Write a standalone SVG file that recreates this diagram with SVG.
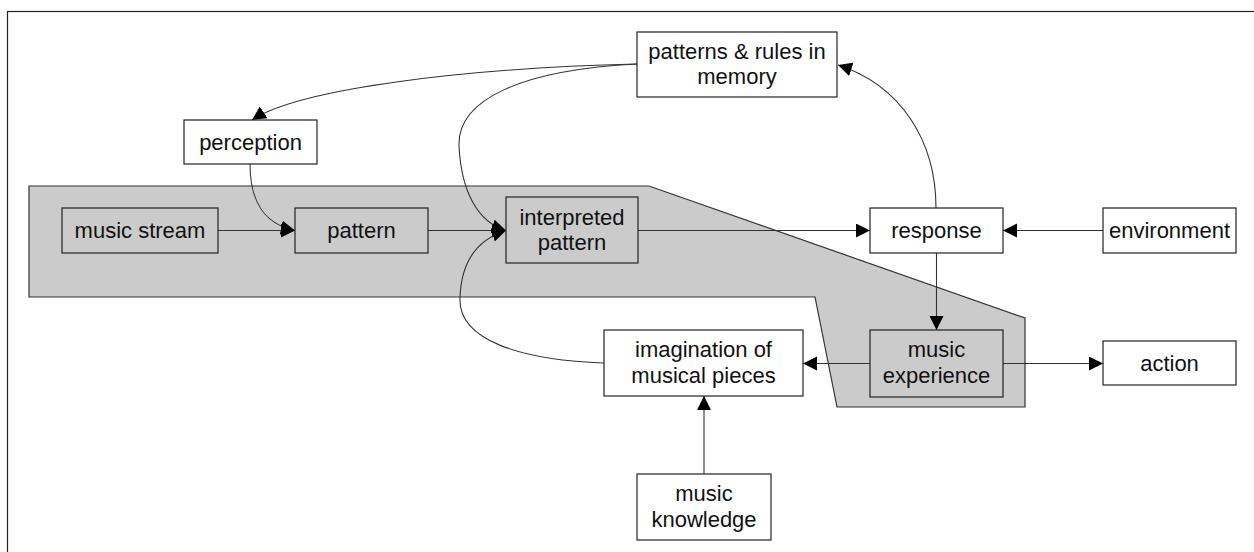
<svg xmlns="http://www.w3.org/2000/svg" width="1254" height="552" viewBox="0 0 1254 552">
<style>
.box{fill:#fff;stroke:#222;stroke-width:1.2}
.gbox{fill:#cbcbcb;stroke:#222;stroke-width:1.2}
text{font-family:"Liberation Sans",Arial,sans-serif;font-size:22px;fill:#111;text-anchor:middle}
.c{fill:none;stroke:#333;stroke-width:1.1}
</style>
<defs>
<marker id="ah" markerUnits="userSpaceOnUse" markerWidth="15" markerHeight="15" refX="14" refY="7" orient="auto">
<path d="M0,0 L14,7 L0,14 z" fill="#000"/>
</marker>
</defs>
<rect x="7.5" y="11.5" width="1260" height="560" fill="#fff" stroke="#222" stroke-width="1.2"/>
<polygon points="29,186 649,186 1025,318 1025,407 837,407 815,297 29,297" fill="#cbcbcb" stroke="#333" stroke-width="1.2"/>
<g id="connectors">
<path class="c" d="M218,230.5 L295,230.5" marker-end="url(#ah)"/>
<path class="c" d="M428,230.5 L506,230.5" marker-end="url(#ah)"/>
<path class="c" d="M638,230.5 L870,230.5" marker-end="url(#ah)"/>
<path class="c" d="M1103,230.5 L1003,230.5" marker-end="url(#ah)"/>
<path class="c" d="M936.5,253 L936.5,330" marker-end="url(#ah)"/>
<path class="c" d="M1003,363.5 L1103,363.5" marker-end="url(#ah)"/>
<path class="c" d="M870,363.5 L803,363.5" marker-end="url(#ah)"/>
<path class="c" d="M704,474 L704,396" marker-end="url(#ah)"/>
<path class="c" d="M250,164 C250,202 264,224 295,230.5" marker-end="url(#ah)"/>
<path class="c" d="M637,64 C470,68 300,88 252,120" marker-end="url(#ah)"/>
<path class="c" d="M637,64 C520,70 458,100 459,145 C461,192 478,222 506,230.5" marker-end="url(#ah)"/>
<path class="c" d="M604,363 C520,360 458,340 460,298 C461,264 476,240 506,230.5" marker-end="url(#ah)"/>
<path class="c" d="M936,208 C936,140 900,85 838,65" marker-end="url(#ah)"/>
</g>
<g id="perception"><rect class="box" x="184" y="120" width="133" height="44"/><text x="250.5" y="149.5">perception</text></g>
<g id="patterns-rules"><rect class="box" x="637" y="32" width="200" height="65"/><text x="737" y="59">patterns &amp; rules in</text><text x="737" y="84">memory</text></g>
<g id="music-stream"><rect class="gbox" x="62" y="208" width="156" height="45"/><text x="140" y="238">music stream</text></g>
<g id="pattern"><rect class="gbox" x="295" y="208" width="133" height="45"/><text x="361.5" y="238">pattern</text></g>
<g id="interpreted-pattern"><rect class="gbox" x="506" y="197" width="132" height="66"/><text x="572" y="225">interpreted</text><text x="572" y="250">pattern</text></g>
<g id="response"><rect class="box" x="870" y="208" width="133" height="45"/><text x="936.5" y="238">response</text></g>
<g id="environment"><rect class="box" x="1103" y="208" width="133" height="45"/><text x="1169.5" y="238">environment</text></g>
<g id="imagination"><rect class="box" x="604" y="330" width="199" height="66"/><text x="703.5" y="357">imagination of</text><text x="703.5" y="383">musical pieces</text></g>
<g id="music-experience"><rect class="gbox" x="870" y="330" width="133" height="67"/><text x="936.5" y="357">music</text><text x="936.5" y="383">experience</text></g>
<g id="action"><rect class="box" x="1103" y="341" width="133" height="44"/><text x="1169.5" y="370.5">action</text></g>
<g id="music-knowledge"><rect class="box" x="637" y="474" width="134" height="66"/><text x="704" y="501">music</text><text x="704" y="527">knowledge</text></g>
</svg>
